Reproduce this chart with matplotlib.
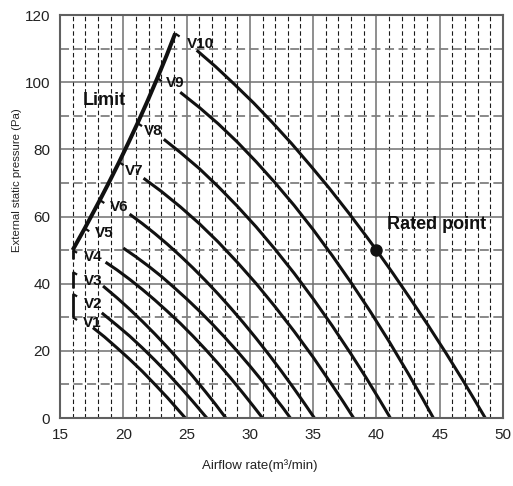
import matplotlib
matplotlib.use('Agg')
from matplotlib import pyplot as plt
from matplotlib.ticker import MultipleLocator

plt.rcParams['font.family'] = ['Liberation Sans', 'DejaVu Sans']

# fan curves: start on the limit line, small hook, then main curve
labels = ['V1', 'V2', 'V3', 'V4', 'V5', 'V6', 'V7', 'V8', 'V9', 'V10']
start_x = [16, 16, 16, 16, 16.96, 18.15, 19.67, 21.13, 22.69, 24.1]
start_y = [30, 37, 43.5, 50, 56.5, 64.9, 76.2, 87.8, 101.2, 114.5]
hook_x = [16.35, 16.35, 16.35, 16.35, 17.31, 18.5, 20.02, 21.48, 23.04, 24.45]
hook_y = [29.2, 36.2, 42.7, 49.2, 55.6, 64.0, 75.3, 86.9, 100.3, 113.6]

v1_x = [17.6, 18.5, 19.5, 20.5, 21.5, 22.5, 23.5, 24.2, 24.9]
v1_y = [26.9, 24.2, 20.9, 17.5, 13.9, 10.0, 6.0, 3.0, 0]
v2_x = [18.3, 19.5, 20.5, 21.5, 22.5, 23.5, 24.5, 25.5, 26.6]
v2_y = [31.3, 27.6, 24.4, 20.9, 17.2, 13.3, 9.2, 4.9, 0]
v3_x = [18.4, 19.5, 20.5, 21.5, 22.5, 23.5, 24.5, 25.5, 26.5, 27.3, 28.1]
v3_y = [39.3, 35.8, 32.4, 28.8, 25.0, 21.0, 16.8, 12.4, 7.8, 4.0, 0]
v4_x = [18.6, 19.5, 20.5, 21.5, 22.5, 23.5, 24.5, 25.5, 26.5, 27.5, 28.5, 29.5, 30.3, 31]
v4_y = [46.4, 44.1, 41.3, 38.3, 35.1, 31.7, 28.2, 24.4, 20.4, 16.2, 11.8, 7.2, 3.4, 0]
v5_x = [20, 21, 22, 23, 24, 25, 26, 27, 28, 29, 30, 31, 32, 32.6, 33.2]
v5_y = [50.6, 48.0, 45.2, 42.2, 38.9, 35.5, 31.9, 28.1, 24.1, 19.9, 15.5, 10.9, 6.0, 3.1, 0]
v6_x = [20.5, 21.5, 22.5, 23.5, 24.5, 25.5, 26.5, 27.5, 28.5, 29.5, 30.5, 31.5, 32.5, 33.5,
        34.3, 35.1]
v6_y = [60.7, 57.9, 54.9, 51.7, 48.3, 44.7, 40.9, 36.9, 32.7, 28.3, 23.7, 18.9, 13.9, 8.7,
        4.4, 0]
v7_x = [21.6, 23, 24.5, 26, 27.5, 29, 30.5, 32, 33.5, 35, 36.5, 37.4, 38.2]
v7_y = [71.4, 67.5, 62.9, 57.9, 52.4, 46.4, 40.0, 33.1, 25.8, 18.1, 9.8, 4.7, 0]
v8_x = [23.2, 24.5, 26, 27.5, 29, 30.5, 32, 33.5, 35, 36.5, 38, 39.2, 40.2, 41.1]
v8_y = [83.0, 79.1, 74.3, 68.9, 63.1, 56.9, 50.2, 43.1, 35.5, 27.5, 19.0, 11.9, 5.7, 0]
v9_x = [24.5, 26, 27.5, 29, 30.5, 32, 33.5, 35, 36.5, 38, 39.5, 41, 42.5, 43.6, 44.5]
v9_y = [97.0, 92.5, 87.6, 82.2, 76.3, 70.0, 63.3, 56.1, 48.4, 40.3, 31.8, 22.8, 13.3, 6.1, 0]
v10_x = [25.8, 27.3, 28.8, 30.3, 31.8, 33.3, 34.8, 36.3, 37.8, 39.2, 40, 41.3, 42.7, 44.1,
         45.5, 46.8, 47.8, 48.6]
v10_y = [109.5, 104.6, 99.3, 93.8, 87.9, 81.7, 75.1, 68.3, 61.1, 54.1, 50, 43.1, 35.4, 27.5,
         19.3, 11.4, 5.1, 0]

curves_x = [v1_x, v2_x, v3_x, v4_x, v5_x, v6_x, v7_x, v8_x, v9_x, v10_x]
curves_y = [v1_y, v2_y, v3_y, v4_y, v5_y, v6_y, v7_y, v8_y, v9_y, v10_y]

# label anchors (left edge, vertical centre)
label_x = [16.8, 16.85, 16.85, 16.85, 17.75, 18.95, 20.1, 21.6, 23.4, 25.0]
label_y = [28.2, 33.9, 40.8, 48.0, 55.2, 62.9, 73.5, 85.6, 99.8, 111.3]

# limit line
limit_x = [16, 16.96, 18.15, 18.85, 19.67, 20.41, 21.13, 21.87, 22.69, 23.43, 24.1]
limit_y = [50, 56.5, 64.9, 70, 76.2, 82, 87.8, 94, 101.2, 108, 114.5]
# vertical limit pieces at the lowest flow
vert_lo = [30, 38.6, 47.3]
vert_hi = [37, 43.5, 50]

rated_x = 40
rated_y = 50

fig = plt.figure(figsize=(5.13, 4.86), dpi=100)
ax = fig.add_axes([60 / 513, 1 - 418 / 486, 443 / 513, 403 / 486])

ax.set_xlim(15, 50)
ax.set_ylim(0, 120)
ax.xaxis.set_major_locator(MultipleLocator(5))
ax.xaxis.set_minor_locator(MultipleLocator(1))
ax.yaxis.set_major_locator(MultipleLocator(20))
ax.yaxis.set_minor_locator(MultipleLocator(10))

ax.xaxis.grid(True, which='minor', color='#1a1a1a', lw=0.8, ls=(0, (4, 2.5)))
ax.yaxis.grid(True, which='minor', color='#808080', lw=1.3, ls=(0, (5, 2.5)))
ax.grid(True, which='major', color='#707070', lw=1.1, ls='-')
ax.set_axisbelow(True)

ax.tick_params(which='both', length=0, labelsize=11, pad=7, colors='#222222')
for s in ax.spines.values():
    s.set_color('#606060')
    s.set_linewidth(1.5)

for i in range(len(labels)):
    ax.plot([start_x[i], hook_x[i]], [start_y[i], hook_y[i]], color='#111111', lw=1.6,
            solid_capstyle='butt')
    ax.plot(curves_x[i], curves_y[i], color='#111111', lw=2.2, solid_capstyle='butt',
            solid_joinstyle='round')
    ax.text(label_x[i], label_y[i], labels[i], fontsize=11, fontweight='bold',
            ha='left', va='center', color='#111111')

ax.plot(limit_x, limit_y, color='#111111', lw=2.9, solid_capstyle='butt',
        solid_joinstyle='round')
for lo, hi in zip(vert_lo, vert_hi):
    ax.plot([16, 16], [lo, hi], color='#111111', lw=2.0, solid_capstyle='butt')

ax.plot(rated_x, rated_y, 'o', color='#111111', ms=8)
ax.text(40.8, 57.5, 'Rated point', fontsize=13, fontweight='bold', ha='left', va='center',
        color='#111111')
ax.text(16.8, 94.4, 'Limit', fontsize=13, fontweight='bold', ha='left', va='center',
        color='#111111')

fig.text(17 / 513, 1 - 180 / 486, 'External static pressure (Pa)', rotation=90,
         ha='center', va='center', fontsize=8.2, color='#222222')
fig.text(260 / 513, 1 - 466 / 486, 'Airflow rate(m³/min)', ha='center', va='center',
         fontsize=9.5, color='#222222')

fig.savefig('out.png', dpi=100)
